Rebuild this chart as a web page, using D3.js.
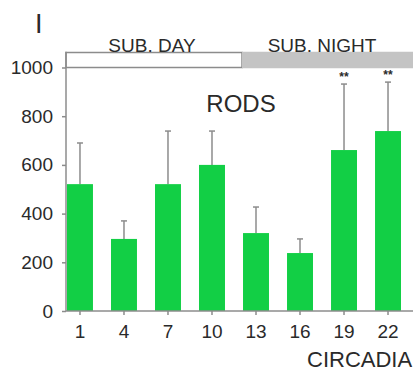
<!DOCTYPE html>
<html>
<head>
<meta charset="utf-8">
<script src="https://cdn.jsdelivr.net/npm/d3@7"></script>
<style>
  body { margin: 0; background: #fff; }
  text { font-family: "Liberation Sans", Arial, sans-serif; fill: #2a2a2a; }
</style>
</head>
<body>
<svg width="413" height="374"></svg>
<script>
// circadian time points and rod values
var hours = ["1", "4", "7", "10", "13", "16", "19", "22"];
var rods = [521, 296, 521, 600, 320, 238, 661, 739];
var errTop = [690, 370, 739, 739, 427, 296, 932, 940];
var stars = ["", "", "", "", "", "", "**", "**"];
var yTicks = [0, 200, 400, 600, 800, 1000];

var svg = d3.select("svg");
var axisColor = "#8c8c8c";

// scales
var x = d3.scaleBand()
    .domain(hours)
    .range([67, 401])
    .paddingInner(0.41)
    .paddingOuter(0)
    .align(0);

var y = d3.scaleLinear()
    .domain([0, 1000])
    .range([311, 67.5]);

// subjective day / night strip
var stripTop = 52.5, stripH = 15;
svg.append("rect")
    .attr("x", 66).attr("y", stripTop)
    .attr("width", 176).attr("height", stripH)
    .attr("fill", "#fff").attr("stroke", axisColor).attr("stroke-width", 1.5);
svg.append("rect")
    .attr("x", 242).attr("y", stripTop - 0.75)
    .attr("width", 180).attr("height", stripH + 1.5)
    .attr("fill", "#c4c4c4");

svg.append("text").attr("x", 152).attr("y", 52)
    .attr("text-anchor", "middle").style("font-size", "19px").text("SUB. DAY");
svg.append("text").attr("x", 322).attr("y", 52)
    .attr("text-anchor", "middle").style("font-size", "19px").text("SUB. NIGHT");

// panel letter
svg.append("text").attr("x", 35).attr("y", 33)
    .style("font-size", "27px").style("font-weight", "300").text("I");

// error bars (drawn first so bars cover the lower part)
var g = svg.append("g");
g.selectAll(".err")
    .data(hours)
    .enter().append("line")
    .attr("x1", function (d) { return x(d) + x.bandwidth() / 2; })
    .attr("x2", function (d) { return x(d) + x.bandwidth() / 2; })
    .attr("y1", function (d, i) { return y(rods[i]); })
    .attr("y2", function (d, i) { return y(errTop[i]); })
    .attr("stroke", axisColor).attr("stroke-width", 1.5);

g.selectAll(".cap")
    .data(hours)
    .enter().append("line")
    .attr("x1", function (d) { return x(d) + x.bandwidth() / 2 - 3; })
    .attr("x2", function (d) { return x(d) + x.bandwidth() / 2 + 3; })
    .attr("y1", function (d, i) { return y(errTop[i]); })
    .attr("y2", function (d, i) { return y(errTop[i]); })
    .attr("stroke", axisColor).attr("stroke-width", 1.5);

// bars
g.selectAll(".bar")
    .data(hours)
    .enter().append("rect")
    .attr("x", function (d) { return x(d); })
    .attr("y", function (d, i) { return y(rods[i]); })
    .attr("width", x.bandwidth())
    .attr("height", function (d, i) { return y(0) - y(rods[i]); })
    .attr("fill", "#12cf45");

// significance stars
g.selectAll(".star")
    .data(hours)
    .enter().append("text")
    .attr("x", function (d) { return x(d) + x.bandwidth() / 2; })
    .attr("y", function (d, i) { return y(errTop[i]) - 3; })
    .attr("text-anchor", "middle")
    .attr("fill", "#444")
    .style("font-size", "12px").style("font-weight", "bold")
    .text(function (d, i) { return stars[i]; });

// axes
var yAxis = svg.append("g")
    .attr("transform", "translate(66,0)")
    .call(d3.axisLeft(y).tickValues(yTicks).tickFormat(d3.format("d")).tickSize(4).tickPadding(9));
yAxis.select(".domain").attr("d", "M0," + y(0) + "V" + (stripTop - 0.75));

var xAxis = svg.append("g")
    .attr("transform", "translate(0," + y(0) + ")")
    .call(d3.axisBottom(x).tickSize(4).tickPadding(10));
xAxis.select(".domain").attr("d", "M66,0H413");

svg.selectAll(".tick line, .domain")
    .attr("stroke", axisColor).attr("stroke-width", 1.5);
svg.selectAll(".tick text")
    .attr("fill", "#2a2a2a")
    .style("font-family", "'Liberation Sans', Arial, sans-serif")
    .style("font-size", "19px");

// title and axis label
svg.append("text").attr("x", 241).attr("y", 112)
    .attr("text-anchor", "middle").style("font-size", "24px").text("RODS");
svg.append("text").attr("x", 307).attr("y", 367)
    .style("font-size", "22px").text("CIRCADIAN TIME");
</script>
</body>
</html>
